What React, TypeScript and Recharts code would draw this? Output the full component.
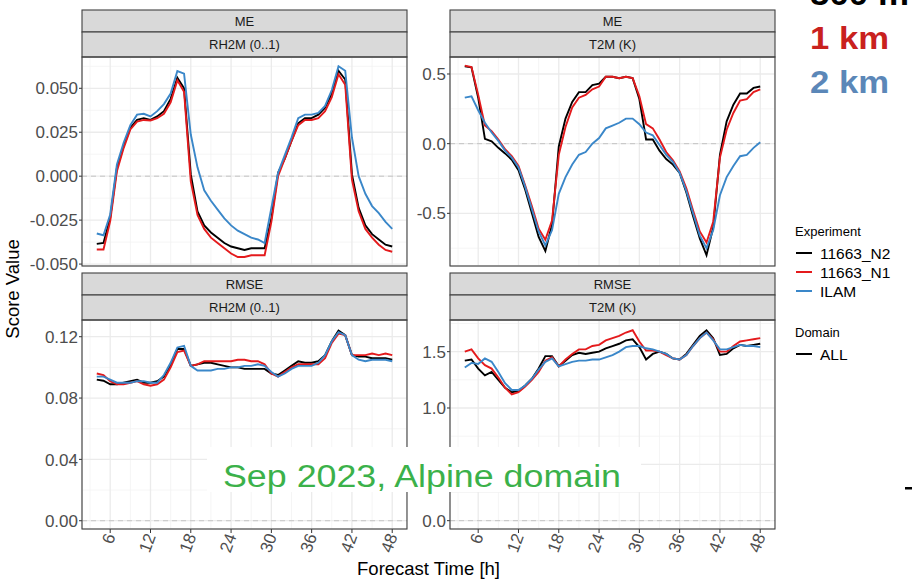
import React from "react";
import { LineChart, Line, XAxis, YAxis, CartesianGrid, ReferenceLine } from "recharts";

// forecast lead time [h]
const hours = [
  4, 5, 6, 7, 8, 9, 10, 11, 12, 13, 14, 15, 16, 17, 18, 19, 20, 21, 22, 23, 24, 25, 26,
  27, 28, 29, 30, 31, 32, 33, 34, 35, 36, 37, 38, 39, 40, 41, 42, 43, 44, 45, 46, 47, 48,
];

// ME, RH2M
const rhMeN2 = [
  -0.0385, -0.038, -0.0237, 0.0047, 0.017, 0.0275, 0.032, 0.033, 0.032, 0.034, 0.037, 0.044,
  0.056, 0.05, 0.001, -0.02, -0.028, -0.032, -0.035, -0.038, -0.04, -0.041, -0.042, -0.041,
  -0.041, -0.041, -0.024, 0.002, 0.01, 0.02, 0.03, 0.033, 0.033, 0.035, 0.039, 0.047, 0.06,
  0.055, 0.001, -0.018, -0.028, -0.033, -0.036, -0.039, -0.04,
];
const rhMeN1 = [
  -0.0417, -0.0417, -0.0256, 0.0028, 0.016, 0.0266, 0.031, 0.032, 0.0317, 0.033, 0.0355,
  0.042, 0.0545, 0.048, -0.003, -0.022, -0.03, -0.035, -0.038, -0.041, -0.044, -0.046,
  -0.046, -0.045, -0.045, -0.045, -0.026, 0.0, 0.01, 0.02, 0.029, 0.032, 0.032, 0.033, 0.037,
  0.045, 0.058, 0.052, -0.002, -0.02, -0.03, -0.035, -0.039, -0.042, -0.043,
];
const rhMeIlam = [
  -0.0326, -0.0336, -0.0218, 0.0066, 0.019, 0.029, 0.035, 0.0355, 0.034, 0.037, 0.041, 0.047,
  0.0598, 0.0583, 0.0237, 0.005, -0.008, -0.014, -0.019, -0.024, -0.028, -0.031, -0.033,
  -0.035, -0.036, -0.038, -0.018, 0.002, 0.012, 0.022, 0.033, 0.035, 0.035, 0.036, 0.04,
  0.049, 0.0625, 0.06, 0.022, 0.0, -0.01, -0.017, -0.021, -0.026, -0.03,
];

// ME, T2M
const tMeN2 = [
  0.555, 0.548, 0.33, 0.035, 0.017, -0.03, -0.07, -0.115, -0.19, -0.33, -0.5, -0.67, -0.77,
  -0.58, -0.02, 0.18, 0.3, 0.37, 0.37, 0.42, 0.43, 0.48, 0.48, 0.47, 0.48, 0.47, 0.32, 0.03,
  0.03, -0.05, -0.11, -0.15, -0.21, -0.35, -0.52, -0.68, -0.8, -0.6, -0.08, 0.16, 0.28, 0.36,
  0.36, 0.4, 0.41,
];
const tMeN1 = [
  0.56, 0.55, 0.35, 0.13, 0.09, 0.03, -0.04, -0.09, -0.16, -0.3, -0.45, -0.61, -0.69, -0.55,
  -0.08, 0.12, 0.26, 0.33, 0.35, 0.39, 0.41, 0.48, 0.48, 0.47, 0.48, 0.47, 0.34, 0.14, 0.11,
  0.03, -0.06, -0.12, -0.2, -0.32, -0.48, -0.63, -0.71, -0.56, -0.1, 0.1, 0.22, 0.31, 0.32,
  0.37, 0.39,
];
const tMeIlam = [
  0.33, 0.34, 0.24, 0.15, 0.08, 0.02, -0.05, -0.1, -0.17, -0.31, -0.47, -0.63, -0.73, -0.62,
  -0.36, -0.24, -0.15, -0.08, -0.06, 0.0, 0.04, 0.11, 0.13, 0.15, 0.18, 0.18, 0.14, 0.08, 0.06,
  -0.01, -0.08, -0.13, -0.21, -0.34, -0.5, -0.66, -0.75, -0.62, -0.37, -0.24, -0.16, -0.09,
  -0.08, -0.03, 0.01,
];

// RMSE, RH2M
const rhRmseN2 = [
  0.092, 0.0913, 0.089, 0.089, 0.09, 0.091, 0.092, 0.09, 0.09, 0.091, 0.094, 0.102, 0.112,
  0.112, 0.101, 0.102, 0.103, 0.103, 0.102, 0.101, 0.1, 0.1, 0.099, 0.099, 0.099, 0.099,
  0.096, 0.095, 0.098, 0.101, 0.104, 0.103, 0.103, 0.104, 0.108, 0.117, 0.124, 0.121, 0.108,
  0.107, 0.107, 0.106, 0.106, 0.106, 0.105,
];
const rhRmseN1 = [
  0.096, 0.095, 0.091, 0.089, 0.089, 0.09, 0.091, 0.089, 0.088, 0.089, 0.092, 0.1, 0.11, 0.111,
  0.101, 0.102, 0.104, 0.104, 0.104, 0.104, 0.104, 0.105, 0.105, 0.104, 0.104, 0.102, 0.096,
  0.094, 0.097, 0.1, 0.102, 0.102, 0.102, 0.102, 0.106, 0.116, 0.122, 0.121, 0.108, 0.108,
  0.108, 0.109, 0.108, 0.109, 0.108,
];
const rhRmseIlam = [
  0.094, 0.094, 0.092, 0.09, 0.09, 0.09, 0.091, 0.091, 0.09, 0.09, 0.095, 0.103, 0.113, 0.114,
  0.101, 0.098, 0.098, 0.098, 0.099, 0.099, 0.1, 0.1, 0.101, 0.101, 0.102, 0.101, 0.097, 0.094,
  0.096, 0.099, 0.101, 0.101, 0.101, 0.103, 0.108, 0.117, 0.123, 0.121, 0.108, 0.105, 0.104,
  0.105, 0.105, 0.105, 0.104,
];

// RMSE, T2M
const tRmseN2 = [
  1.42, 1.43, 1.35, 1.29, 1.32, 1.25, 1.18, 1.14, 1.15, 1.2, 1.26, 1.35, 1.46, 1.46, 1.37, 1.42,
  1.47, 1.49, 1.48, 1.49, 1.5, 1.53, 1.55, 1.57, 1.6, 1.61, 1.54, 1.43, 1.48, 1.5, 1.48, 1.44,
  1.43, 1.48, 1.56, 1.64, 1.69, 1.62, 1.47, 1.48, 1.53, 1.56, 1.55, 1.56, 1.57,
];
const tRmseN1 = [
  1.5, 1.52, 1.44, 1.38, 1.35, 1.27, 1.18, 1.12, 1.14, 1.19, 1.25, 1.32, 1.42, 1.45, 1.37, 1.43,
  1.48, 1.52, 1.52, 1.55, 1.56, 1.6, 1.62, 1.64, 1.67, 1.69, 1.59, 1.51, 1.51, 1.5, 1.47, 1.44,
  1.43, 1.47, 1.55, 1.62, 1.67, 1.61, 1.5, 1.5, 1.55, 1.59, 1.6, 1.61, 1.62,
];
const tRmseIlam = [
  1.36, 1.4, 1.39, 1.44, 1.41, 1.32, 1.22, 1.16, 1.16, 1.2, 1.26, 1.34, 1.41, 1.44, 1.37, 1.39,
  1.41, 1.42, 1.42, 1.43, 1.43, 1.45, 1.47, 1.5, 1.54, 1.55, 1.55, 1.53, 1.52, 1.5, 1.48, 1.44,
  1.43, 1.47, 1.55, 1.62, 1.67, 1.6, 1.52, 1.52, 1.54, 1.56, 1.55, 1.55, 1.54,
];

const xMajor = [6, 12, 18, 24, 30, 36, 42, 48];
const xMinor = [3, 9, 15, 21, 27, 33, 39, 45];
const X_DOMAIN: [number, number] = [1.8, 50.2];

const experiments = [
  { key: "n2", label: "11663_N2", color: "#000000" },
  { key: "n1", label: "11663_N1", color: "#e41a1c" },
  { key: "ilam", label: "ILAM", color: "#3a87c9" },
];

const FONT = '"Liberation Sans", Arial, Helvetica, sans-serif';
const PLOT_W = 325;
const PLOT_H = 209;
const AXIS_W = 80;
const X_AXIS_H = 42;
const PAD_BOTTOM = 12; // room for the lowest y label on the top row

const rows = (n2: number[], n1: number[], ilam: number[]) =>
  hours.map((h, i) => ({ h, n2: n2[i], n1: n1[i], ilam: ilam[i] }));

const panels = [
  {
    id: "me-rh", left: 82, top: 57, score: "ME", variable: "RH2M (0..1)",
    data: rows(rhMeN2, rhMeN1, rhMeIlam),
    domain: [-0.0511, 0.0678] as [number, number],
    ticks: [-0.05, -0.025, 0, 0.025, 0.05],
    minor: [-0.0375, -0.0125, 0.0125, 0.0375, 0.0625],
    digits: 3, showX: false,
  },
  {
    id: "me-t", left: 450, top: 57, score: "ME", variable: "T2M (K)",
    data: rows(tMeN2, tMeN1, tMeIlam),
    domain: [-0.878, 0.622] as [number, number],
    ticks: [-0.5, 0, 0.5],
    minor: [-0.75, -0.25, 0.25],
    digits: 1, showX: false,
  },
  {
    id: "rmse-rh", left: 82, top: 320, score: "RMSE", variable: "RH2M (0..1)",
    data: rows(rhRmseN2, rhRmseN1, rhRmseIlam),
    domain: [-0.0054, 0.1309] as [number, number],
    ticks: [0, 0.04, 0.08, 0.12],
    minor: [0.02, 0.06, 0.1],
    digits: 2, showX: true,
  },
  {
    id: "rmse-t", left: 450, top: 320, score: "RMSE", variable: "T2M (K)",
    data: rows(tRmseN2, tRmseN1, tRmseIlam),
    domain: [-0.074, 1.781] as [number, number],
    ticks: [0, 0.5, 1, 1.5],
    minor: [0.25, 0.75, 1.25, 1.75],
    digits: 1, showX: true,
  },
];

const XTick = (props: any) => {
  const { x, y, payload } = props;
  return (
    <g transform={`translate(${x},${y})`}>
      <text
        transform="rotate(-70)"
        textAnchor="end"
        dy="0.35em"
        fill="#4d4d4d"
        fontSize={17}
        fontFamily={FONT}
      >
        {payload.value}
      </text>
    </g>
  );
};

const makeYTick = (digits: number) => (props: any) => {
  const { x, y, payload } = props;
  return (
    <text x={x} y={y} dy="0.36em" textAnchor="end" fill="#4d4d4d" fontSize={17} fontFamily={FONT}>
      {Number(payload.value).toFixed(digits)}
    </text>
  );
};

const Panel = ({ p }: { p: (typeof panels)[number] }) => {
  const bottom = p.showX ? 0 : PAD_BOTTOM;
  return (
    <div style={{ position: "absolute", left: p.left - AXIS_W, top: p.top }}>
      <LineChart
        width={AXIS_W + PLOT_W}
        height={PLOT_H + (p.showX ? X_AXIS_H : 0) + bottom}
        data={p.data}
        margin={{ top: 0, right: 0, bottom, left: 0 }}
      >
        {/* minor grid comes from a pair of hidden axes */}
        <XAxis xAxisId="minor" type="number" dataKey="h" domain={X_DOMAIN} ticks={xMinor} allowDataOverflow hide />
        <YAxis yAxisId="minor" type="number" domain={p.domain} ticks={p.minor} allowDataOverflow hide />
        <CartesianGrid xAxisId="minor" yAxisId="minor" stroke="#f3f3f3" strokeWidth={0.8} />
        <CartesianGrid stroke="#ebebeb" strokeWidth={1.3} />
        <XAxis
          type="number"
          dataKey="h"
          domain={X_DOMAIN}
          ticks={xMajor}
          interval={0}
          allowDataOverflow
          hide={!p.showX}
          height={X_AXIS_H}
          axisLine={false}
          tickSize={4}
          tickMargin={1}
          tickLine={{ stroke: "#333333" }}
          tick={<XTick />}
        />
        <YAxis
          type="number"
          domain={p.domain}
          ticks={p.ticks}
          interval={0}
          allowDataOverflow
          width={AXIS_W}
          axisLine={false}
          tickSize={3}
          tickMargin={1}
          tickLine={{ stroke: "#333333" }}
          tick={makeYTick(p.digits)}
        />
        <ReferenceLine y={0} stroke="#c4c4c4" strokeDasharray="5 4" strokeWidth={1} />
        {experiments.map((e) => (
          <Line
            key={e.key}
            type="linear"
            dataKey={e.key}
            stroke={e.color}
            strokeWidth={1.9}
            dot={false}
            activeDot={false}
            isAnimationActive={false}
          />
        ))}
      </LineChart>
    </div>
  );
};

// strips, panel borders, axis titles and legend
const Frame = () => (
  <svg
    width={912}
    height={579}
    style={{ position: "absolute", left: 0, top: 0, pointerEvents: "none" }}
    fontFamily={FONT}
  >
    {panels.map((p) => (
      <g key={p.id}>
        <rect x={p.left} y={p.top - 47} width={PLOT_W} height={22} fill="#d9d9d9" stroke="#404040" strokeWidth={1.1} />
        <rect x={p.left} y={p.top - 25} width={PLOT_W} height={25} fill="#d9d9d9" stroke="#404040" strokeWidth={1.1} />
        <text x={p.left + PLOT_W / 2} y={p.top - 36} dy="0.36em" textAnchor="middle" fontSize={13} fill="#1a1a1a">
          {p.score}
        </text>
        <text x={p.left + PLOT_W / 2} y={p.top - 12.5} dy="0.36em" textAnchor="middle" fontSize={13} fill="#1a1a1a">
          {p.variable}
        </text>
        <rect x={p.left} y={p.top} width={PLOT_W} height={PLOT_H} fill="none" stroke="#404040" strokeWidth={1.1} />
      </g>
    ))}

    <text x={428.5} y={575} textAnchor="middle" fontSize={18.5} fill="#000">
      Forecast Time [h]
    </text>
    <text transform="translate(19,289) rotate(-90)" textAnchor="middle" fontSize={18.5} fill="#000">
      Score Value
    </text>

    <text x={795} y={231} dy="0.36em" fontSize={13} fill="#000">
      Experiment
    </text>
    {experiments.map((e, i) => (
      <g key={e.key}>
        <line x1={796} x2={812} y1={253 + i * 19} y2={253 + i * 19} stroke={e.color} strokeWidth={2} />
        <text x={820} y={253 + i * 19} dy="0.36em" fontSize={15.5} fill="#000">
          {e.label}
        </text>
      </g>
    ))}
    <text x={795} y={332} dy="0.36em" fontSize={13} fill="#000">
      Domain
    </text>
    <line x1={796} x2={812} y1={354} y2={354} stroke="#000" strokeWidth={2} />
    <text x={820} y={354} dy="0.36em" fontSize={15.5} fill="#000">
      ALL
    </text>
  </svg>
);

// resolution key and period caption laid over the figure
const Notes = () => (
  <svg
    width={912}
    height={579}
    style={{ position: "absolute", left: 0, top: 0, pointerEvents: "none" }}
    fontFamily={FONT}
  >
    <rect x={207} y={447} width={434} height={45} fill="#ffffff" />
    <text x={223} y={487} fontSize={31} fill="#3bb14a" textLength={398} lengthAdjust="spacingAndGlyphs">
      Sep 2023, Alpine domain
    </text>
    <text x={810} y={5} fontSize={31} fontWeight="bold" fill="#000" textLength={99} lengthAdjust="spacingAndGlyphs">
      500 m
    </text>
    <text x={810} y={49} fontSize={31} fontWeight="bold" fill="#c9211e" textLength={79} lengthAdjust="spacingAndGlyphs">
      1 km
    </text>
    <text x={810} y={93} fontSize={31} fontWeight="bold" fill="#5b87b8" textLength={79} lengthAdjust="spacingAndGlyphs">
      2 km
    </text>
    <rect x={905} y={487} width={7} height={2.5} fill="#000" />
  </svg>
);

export default function App() {
  return (
    <div
      style={{
        position: "absolute",
        left: 0,
        top: 0,
        width: 912,
        height: 579,
        overflow: "hidden",
        background: "#ffffff",
      }}
    >
      {panels.map((p) => (
        <Panel key={p.id} p={p} />
      ))}
      <Frame />
      <Notes />
    </div>
  );
}
